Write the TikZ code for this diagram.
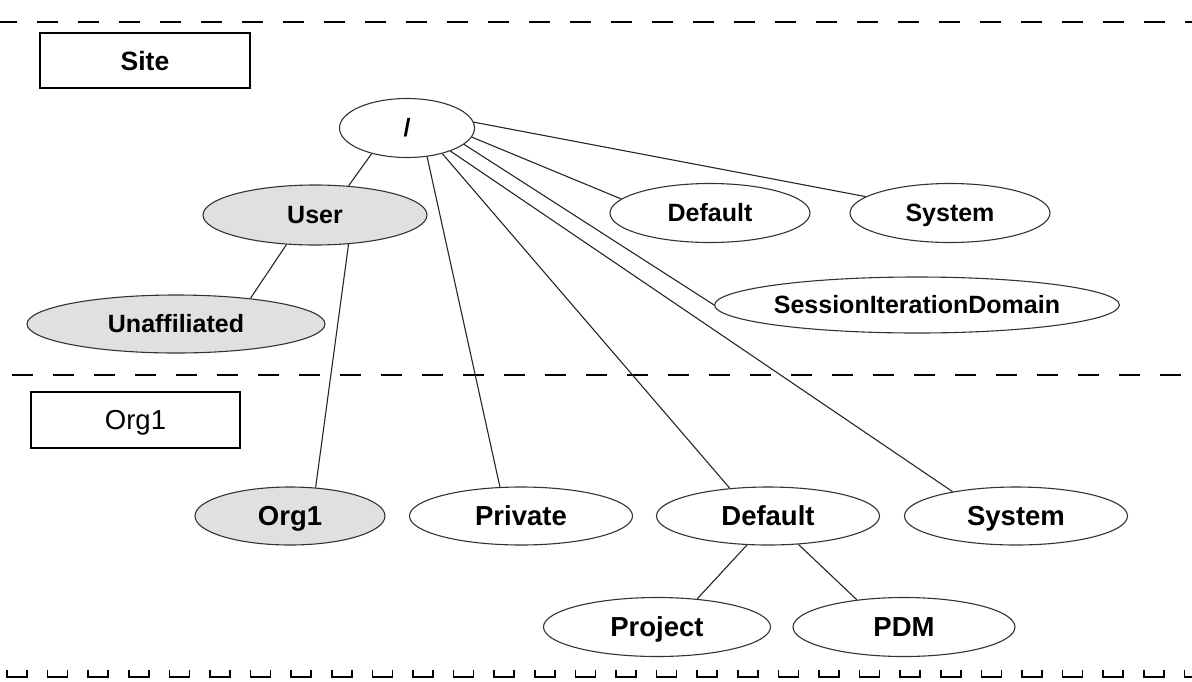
\documentclass[tikz,border=0pt]{standalone}
\usepackage{fontspec}
\setmainfont{Liberation Sans}
\usetikzlibrary{shapes.geometric}
\begin{document}
\begin{tikzpicture}[x=1pt,y=-1pt,
  ell/.style={ellipse, draw=black!80, line width=1.1pt, inner sep=0pt, text height=17.9pt, text depth=0pt, font=\bfseries\fontsize{25}{30}\selectfont},
  ellb/.style={ell, text height=19.7pt, font=\bfseries\fontsize{27.5}{33}\selectfont},
  grayfill/.style={fill=black!12},
  conn/.style={draw=black!85, line width=1.1pt},
  lbox/.style={draw, line width=1.6pt, inner sep=0pt, text depth=0pt},
  sepline/.style={line width=2pt, dash pattern=on 21pt off 20pt}]
\useasboundingbox (0,0) rectangle (1192,681);
% separators
\draw[sepline] (-4,22) -- (1192,22);
\draw[sepline] (12,375) -- (1192,375);
\foreach \i in {0,...,29} {
  \draw[line width=1.6pt] ({7+40.6*\i},670) -- ({7+40.6*\i},677) -- ({27+40.6*\i},677) -- ({27+40.6*\i},670);
}
% boxes
\node[lbox, minimum width=210pt, minimum height=55pt, text height=19pt, font=\bfseries\fontsize{26.5}{31}\selectfont] (site) at (145,60.5) {Site};
\node[lbox, minimum width=209pt, minimum height=56pt, text height=19.7pt, font=\fontsize{27.5}{33}\selectfont] (orgbox) at (135.5,420) {Org1};
% ellipses
\node[ell, minimum width=135pt, minimum height=59pt] (root) at (407,128) {/};
\node[ell, grayfill, minimum width=224pt, minimum height=60pt] (user) at (315,215) {User};
\node[ell, grayfill, minimum width=298pt, minimum height=58pt] (unaff) at (176,324) {Unaffiliated};
\node[ell, minimum width=200pt, minimum height=59pt] (def1) at (710,213) {Default};
\node[ell, minimum width=200pt, minimum height=59pt] (sys1) at (950,213) {System};
\node[ell, minimum width=353pt, minimum height=56pt] (sid) at (917,305) {SessionIterationDomain};
\node[ellb, grayfill, minimum width=190pt, minimum height=58pt] (org) at (290,516) {Org1};
\node[ellb, minimum width=223pt, minimum height=58pt] (priv) at (521,516) {Private};
\node[ellb, minimum width=223pt, minimum height=58pt] (def2) at (768,516) {Default};
\node[ellb, minimum width=223pt, minimum height=58pt] (sys2) at (1016,516) {System};
\node[ellb, minimum width=227pt, minimum height=59pt] (proj) at (657,627) {Project};
\node[ellb, minimum width=222pt, minimum height=59pt] (pdm) at (904,627) {PDM};
% connectors
\draw[conn] (root.216) -- (user.41);
\draw[conn] (root.305) -- (priv.126);
\draw[conn] (root.324) -- (def2.144);
\draw[conn] (root.332) -- (sys2.159);
\draw[conn] (root.344) -- (sid.180);
\draw[conn] (root.352) -- (def1.171);
\draw[conn] (root.5) -- (sys1.169);
\draw[conn] (user.226) -- (unaff.19);
\draw[conn] (user.319) -- (org.48);
\draw[conn] (def2.234) -- (proj.35);
\draw[conn] (def2.317) -- (pdm.150);
\end{tikzpicture}
\end{document}
